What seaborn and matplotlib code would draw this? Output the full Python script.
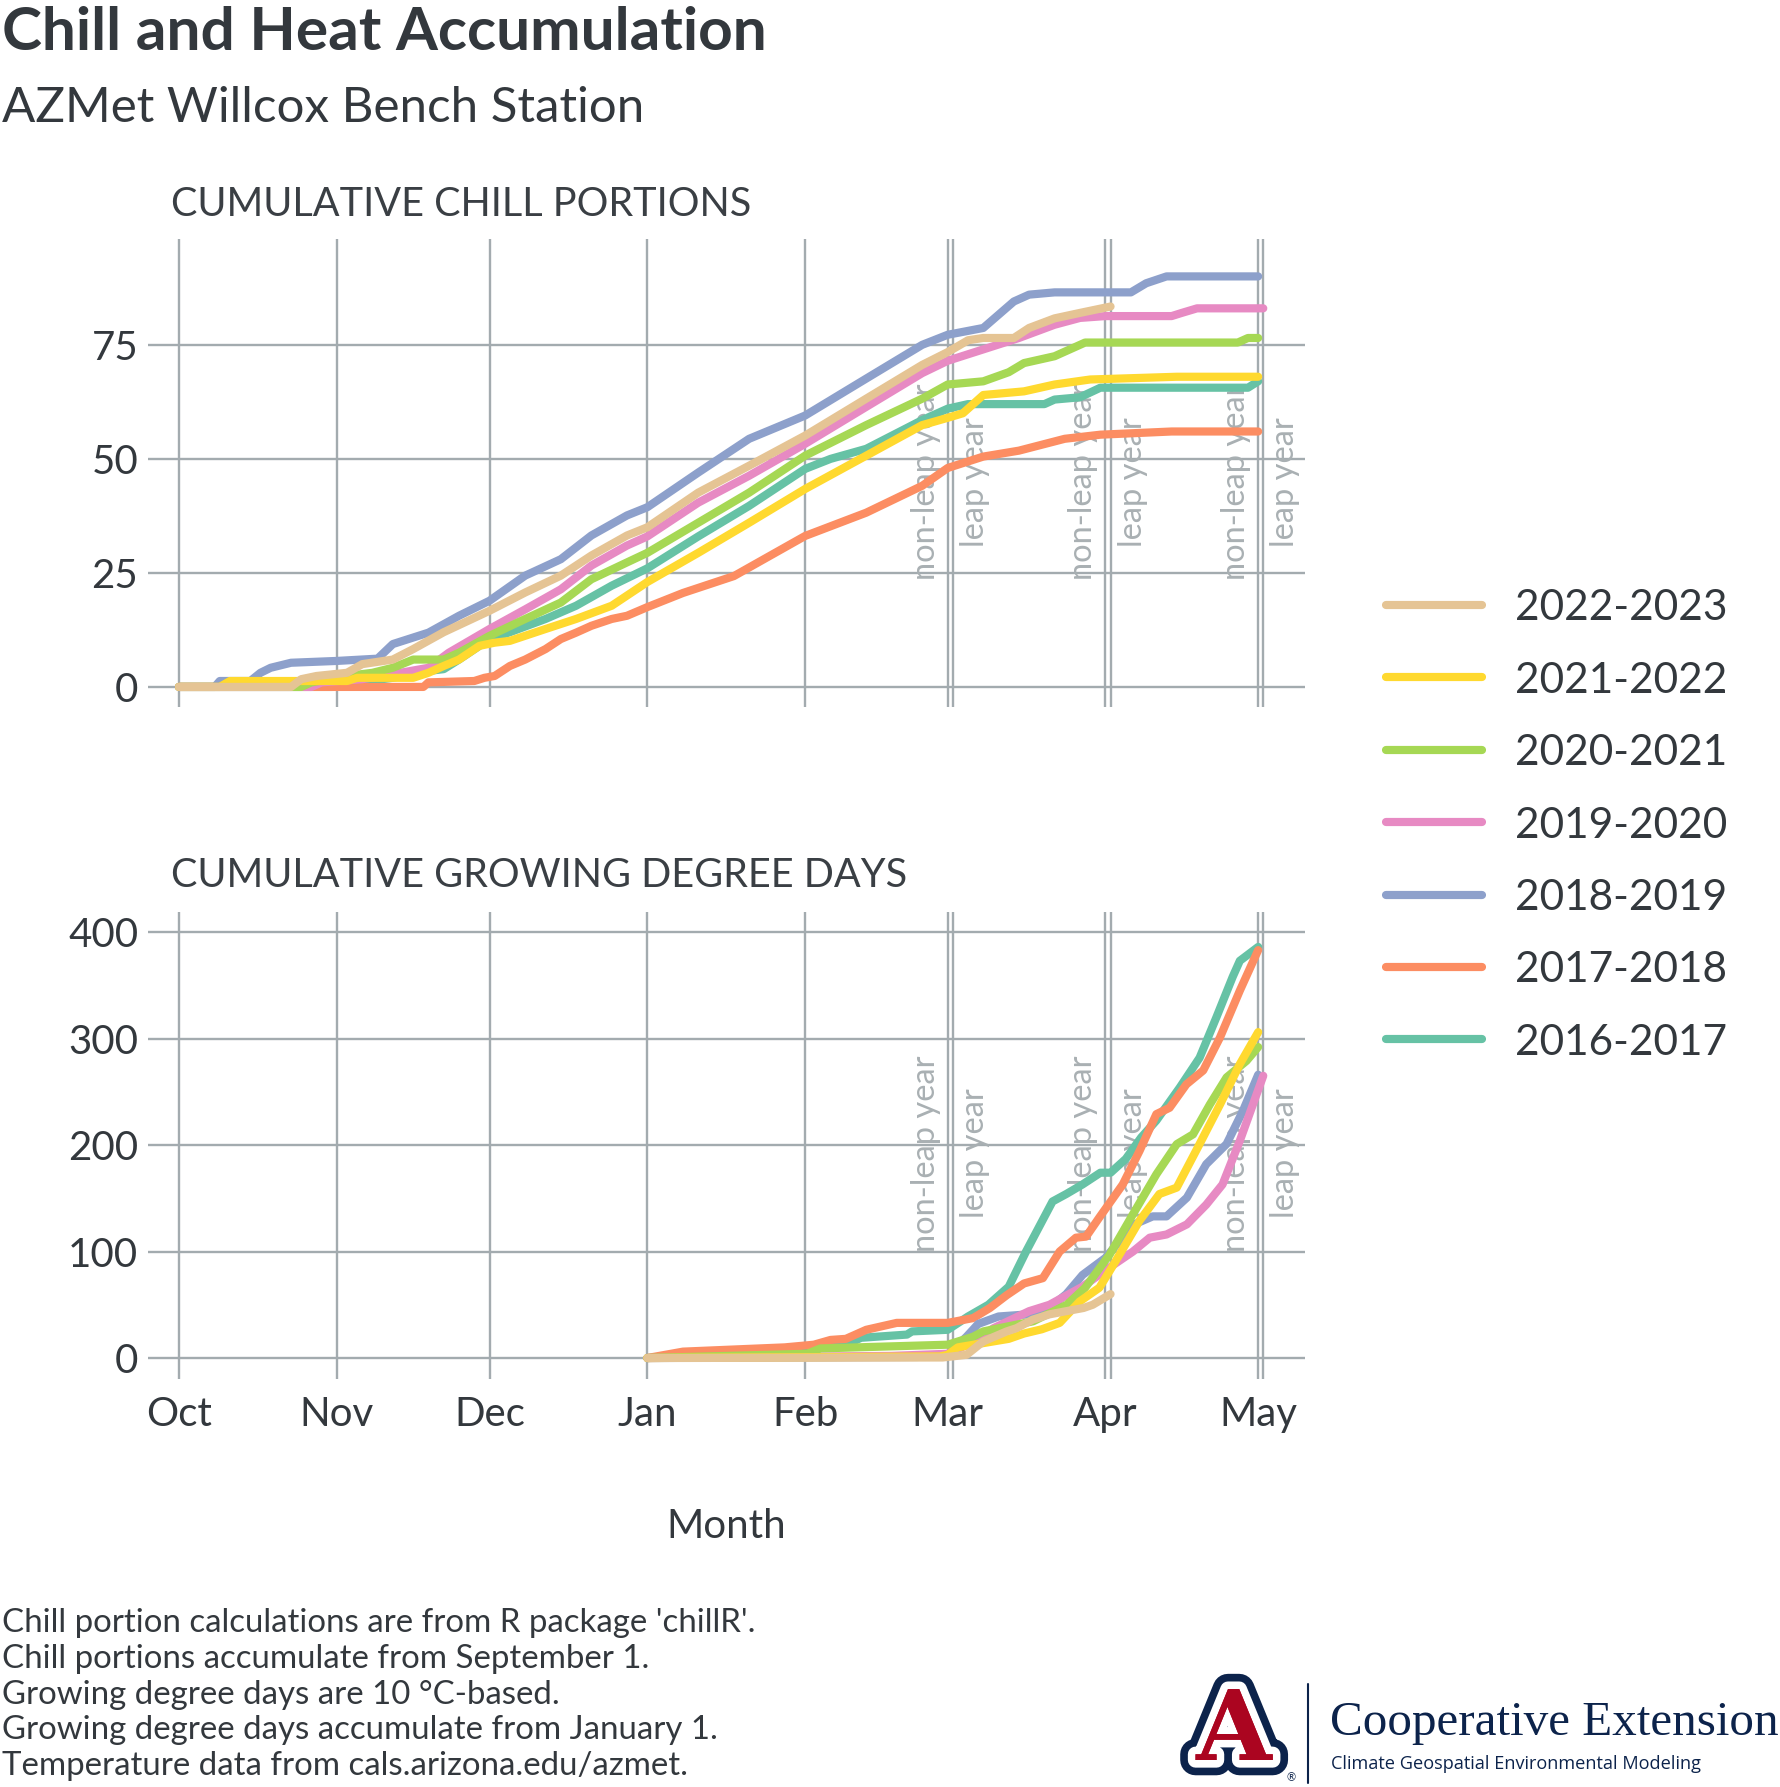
import numpy as np
import pandas as pd
import matplotlib
matplotlib.use("Agg")
import matplotlib.pyplot as plt
import seaborn as sns
from matplotlib.lines import Line2D
import matplotlib.patheffects as pe

# ---------------- data ----------------
seasons = ["2016-2017", "2017-2018", "2018-2019", "2019-2020",
           "2020-2021", "2021-2022", "2022-2023"]
season_colors = ["#66c2a5", "#fc8d62", "#8da0cb", "#e78ac3",
                 "#a6d854", "#ffd92f", "#e5c494"]

# x = days since October 1
month_labels = ["Oct", "Nov", "Dec", "Jan", "Feb", "Mar", "Apr", "May"]
month_starts = [0, 31, 61, 92, 123, 151, 182, 212]
leap_month_starts = [152, 183, 213]

# Cumulative chill portions
cp_day_1617 = [0, 30, 35, 42, 46, 52, 55, 61, 65, 72, 78, 85, 92, 102, 112, 123, 128, 135, 146, 151, 155, 170, 172, 177, 181, 183, 210, 212]
cp_val_1617 = [0, 0, 1, 2, 3.1, 3.9, 6, 10.5, 12, 14.9, 17.8, 22.2, 26, 33, 39.7, 47.8, 50, 52.2, 58.5, 61, 62, 62, 63, 63.5, 65.6, 65.6, 65.6, 67]
cp_day_1718 = [0, 48, 49, 58, 60, 62, 65, 68, 72, 75, 78, 81, 85, 88, 92, 99, 109, 123, 135, 146, 151, 158, 165, 174, 181, 195, 212]
cp_val_1718 = [0, 0, 1, 1.3, 2, 2.4, 4.6, 6, 8.3, 10.5, 11.9, 13.4, 14.9, 15.6, 17.5, 20.6, 24.3, 33.1, 38.2, 44.1, 48, 50.5, 51.8, 54.4, 55.3, 56, 56]
cp_day_1819 = [0, 7, 8, 14, 16, 18, 22, 31, 39, 42, 49, 55, 61, 68, 75, 81, 88, 92, 102, 112, 123, 135, 146, 151, 158, 164, 167, 172, 187, 190, 194, 212]
cp_val_1819 = [0, 0, 1.3, 1.3, 3.1, 4.2, 5.3, 5.7, 6.2, 9.4, 11.9, 15.6, 18.9, 24.4, 28, 33.2, 37.6, 39.4, 47, 54.4, 59.5, 67.6, 75, 77.2, 78.7, 84.5, 86, 86.5, 86.5, 88.5, 90, 90]
cp_day_1920 = [0, 26, 28, 36, 42, 49, 53, 61, 68, 75, 81, 88, 92, 102, 112, 123, 135, 146, 151, 158, 165, 172, 177, 182, 195, 197, 200, 213]
cp_val_1920 = [0, 0, 1, 1.7, 2.8, 4.2, 7.5, 12.7, 17, 21.4, 26.6, 31, 33, 40.4, 46.3, 53.3, 61.4, 68.8, 71.5, 74, 76.5, 79.4, 80.9, 81.3, 81.3, 82, 83, 83]
cp_day_2021 = [0, 24, 26, 33, 38, 42, 46, 52, 55, 61, 68, 75, 81, 88, 92, 102, 112, 123, 135, 146, 151, 158, 163, 166, 172, 178, 208, 210, 212]
cp_val_2021 = [0, 0, 1, 2.4, 3.1, 4.2, 6, 6, 7.5, 11.2, 14.9, 18.5, 23.6, 27.3, 29.4, 36, 42.6, 50.7, 57.4, 63.2, 66.3, 67, 69, 71, 72.5, 75.5, 75.5, 76.5, 76.5]
cp_day_2122 = [0, 8, 10, 33, 35, 46, 49, 52, 55, 59, 62, 65, 72, 78, 85, 92, 102, 112, 123, 135, 146, 151, 154, 158, 166, 172, 179, 196, 212]
cp_val_2122 = [0, 0, 1.3, 1.3, 2, 2, 3.1, 4.6, 6, 9, 9.7, 10.1, 12.7, 14.9, 17.8, 23, 29.4, 36, 43.4, 50.7, 57.4, 59, 60, 64, 64.8, 66.3, 67.4, 68, 68]
cp_day_2223 = [0, 22, 24, 27, 33, 36, 42, 46, 52, 61, 68, 75, 81, 88, 92, 102, 112, 123, 135, 146, 151, 155, 158, 164, 167, 172, 177, 183]
cp_val_2223 = [0, 0, 1.7, 2.4, 3.1, 5, 6, 8.3, 12, 16.7, 20.7, 24.4, 28.8, 33.2, 35, 42.6, 48.5, 55.1, 63.2, 70.6, 73.4, 76, 76.5, 76.5, 78.7, 80.8, 82, 83.4]

# Cumulative growing degree days
gdd_day_1617 = [92, 110, 123, 126, 131, 134, 143, 144, 151, 155, 159, 163, 166.4, 171.6, 174.3, 177.5, 181, 183, 186, 189, 192, 196.6, 200.5, 203.8, 207, 208.4, 212]
gdd_val_1617 = [0, 4, 5, 11, 12.5, 19, 22, 25, 26.5, 39, 50, 67, 100, 147, 154, 163, 174, 174, 187, 207, 223, 254, 282, 320, 358, 373, 386]
gdd_day_1718 = [92, 99, 119, 124.7, 128, 131, 135, 141, 151, 156, 159.3, 162.6, 166, 169.7, 173, 176.2, 178.2, 180.8, 185.4, 188.7, 192, 194.6, 197.9, 201.2, 204.5, 208.4, 212]
gdd_val_1718 = [0, 6, 10, 12.5, 17, 18, 26.5, 33, 33, 37.5, 47, 59, 70, 75, 100, 113, 114, 132, 163, 194.5, 229, 235, 257, 270, 301, 345, 383]
gdd_day_1819 = [92, 145, 151, 154.7, 157, 161, 169.7, 174.3, 177.5, 182, 187.4, 191.3, 194, 198, 201.8, 205.8, 209, 212]
gdd_val_1819 = [0, 1, 3, 20, 32, 39, 42, 60, 78, 94, 125, 133, 133, 150.6, 182, 201, 232, 266]
gdd_day_1920 = [92, 140, 151, 156, 160, 167, 171, 177.5, 182.8, 187.4, 190.7, 194, 198, 201.8, 205, 208.4, 213]
gdd_val_1920 = [0, 2, 4, 15, 28, 44, 50, 67, 85, 100, 113, 116, 125.5, 144, 163, 204, 265]
gdd_day_2021 = [92, 123.4, 126, 151, 156, 158, 167.8, 174.4, 178, 182.8, 187.4, 192, 196, 199.2, 202.5, 205.8, 209.7, 212]
gdd_val_2021 = [0, 4, 9, 12.5, 20, 25, 34.5, 50, 66, 97, 135, 172.5, 200.8, 210, 238, 263.5, 279, 292]
gdd_day_2122 = [92, 149.5, 151, 153, 158, 163, 166, 169.5, 173, 176.9, 180.8, 184, 188.7, 192.6, 196, 200.5, 204.5, 208.4, 212]
gdd_val_2122 = [0, 1.5, 3, 10, 14, 18, 23, 27, 33, 53, 66, 91, 129, 154, 160, 201, 238, 276, 306]
gdd_day_2223 = [92, 150, 154.7, 158, 162.6, 164.5, 167.7, 171, 174.3, 177.7, 179.5, 183]
gdd_val_2223 = [0, 0.5, 3, 15.6, 25, 28, 36, 41, 44, 47, 50, 60]

footer_lines = [
    "Chill portion calculations are from R package 'chillR'.",
    "Chill portions accumulate from September 1.",
    "Growing degree days are 10 \u00b0C-based.",
    "Growing degree days accumulate from January 1.",
    "Temperature data from cals.arizona.edu/azmet.",
]

cp_days = [cp_day_1617, cp_day_1718, cp_day_1819, cp_day_1920, cp_day_2021, cp_day_2122, cp_day_2223]
cp_vals = [cp_val_1617, cp_val_1718, cp_val_1819, cp_val_1920, cp_val_2021, cp_val_2122, cp_val_2223]
gdd_days = [gdd_day_1617, gdd_day_1718, gdd_day_1819, gdd_day_1920, gdd_day_2021, gdd_day_2122, gdd_day_2223]
gdd_vals = [gdd_val_1617, gdd_val_1718, gdd_val_1819, gdd_val_1920, gdd_val_2021, gdd_val_2122, gdd_val_2223]

def long_frame(days_list, vals_list):
    parts = []
    for s, d, v in zip(seasons, days_list, vals_list):
        parts.append(pd.DataFrame({"season": s, "day": d, "value": v}))
    return pd.concat(parts, ignore_index=True)

df_cp = long_frame(cp_days, cp_vals)
df_gdd = long_frame(gdd_days, gdd_vals)
palette = dict(zip(seasons, season_colors))

# ---------------- styling ----------------
sns.set_style("white")
plt.rcParams["font.family"] = ["Lato", "DejaVu Sans"]

W, H = 1780, 1787
fig = plt.figure(figsize=(W / 100, H / 100), dpi=100)
fig.patch.set_facecolor("white")

TXT = "#33383d"
GRID = "#a3abaf"
LBL = "#a9b0b3"

def fx(px):
    return px / W

def fy(py):
    return 1 - py / H

def make_axes(top, bottom):
    return fig.add_axes([fx(148), fy(bottom), fx(1305) - fx(148), fy(top) - fy(bottom)])

ax1 = make_axes(239, 707)
ax2 = make_axes(912, 1379)

def style(ax, yticks, ylim, show_x):
    ax.set_xlim(-6.1, 221.2)
    ax.set_ylim(*ylim)
    ax.set_xticks(month_starts)
    ax.set_xticklabels(month_labels)
    ax.set_yticks(yticks)
    ax.set_yticklabels([str(t) for t in yticks])
    ax.grid(True, color=GRID, linewidth=1.7)
    ax.set_axisbelow(True)
    for sp in ax.spines.values():
        sp.set_visible(False)
    ax.tick_params(axis="both", length=0, labelsize=29, labelcolor=TXT)
    ax.tick_params(axis="y", pad=7)
    ax.tick_params(axis="x", pad=12, labelbottom=show_x)
    for xl in leap_month_starts:
        ax.axvline(xl, color=GRID, linewidth=1.7, zorder=0.6)
    ax.set_xlabel("")
    ax.set_ylabel("")

def draw(ax, df):
    sns.lineplot(data=df, x="day", y="value", hue="season", hue_order=seasons,
                 palette=palette, linewidth=5.9, legend=False, ax=ax,
                 estimator=None, sort=False, solid_capstyle="round",
                 solid_joinstyle="round", zorder=3)

draw(ax1, df_cp)
draw(ax2, df_gdd)
style(ax1, [0, 25, 50, 75], (-4.4, 98.2), False)
style(ax2, [0, 100, 200, 300, 400], (-19.7, 418.8), True)

def leap_labels(ax, yc):
    for xn, xl in zip(month_starts[5:], leap_month_starts):
        ax.text(xn - 1.4, yc, "non-leap year", rotation=90, ha="right", va="center",
                fontsize=23.5, color=LBL, zorder=1)
        ax.text(xl + 1.4, yc, "leap year", rotation=90, ha="left", va="center",
                fontsize=23.5, color=LBL, zorder=1)

leap_labels(ax1, 45)
leap_labels(ax2, 192)

ax2.set_xlabel("Month", fontsize=29, color=TXT, labelpad=0)
ax2.xaxis.set_label_coords(0.5, -(1538 - 1379) / (1379 - 912), transform=ax2.transAxes)
ax2.xaxis.label.set_va("baseline")

# ---------------- titles ----------------
fig.text(fx(2), fy(50), "Chill and Heat Accumulation", fontsize=43.5, fontweight="bold",
         color=TXT, va="baseline", ha="left")
fig.text(fx(2), fy(122), "AZMet Willcox Bench Station", fontsize=35.5,
         color=TXT, va="baseline", ha="left")
fig.text(fx(171), fy(216), "CUMULATIVE CHILL PORTIONS", fontsize=28.5,
         color="#3a3f44", va="baseline", ha="left")
fig.text(fx(171), fy(887), "CUMULATIVE GROWING DEGREE DAYS", fontsize=28.5,
         color="#3a3f44", va="baseline", ha="left")

# ---------------- legend ----------------
for i, (s, c) in enumerate(zip(seasons[::-1], season_colors[::-1])):
    yy = fy(605 + i * 72.4)
    fig.add_artist(Line2D([fx(1386), fx(1482)], [yy, yy], color=c, linewidth=5.9,
                          solid_capstyle="round", transform=fig.transFigure))
    fig.text(fx(1515), yy, s, fontsize=30.5, color=TXT, va="center_baseline", ha="left")

# ---------------- footer ----------------
for i, line in enumerate(footer_lines):
    fig.text(fx(2), fy(1632 + i * 35.8), line, fontsize=23.8, color=TXT,
             va="baseline", ha="left")

# ---------------- logo ----------------
NAVY = "#0c234b"
RED = "#ab0520"
fig.text(fx(1234), fy(1733), "A", fontsize=70, fontweight="bold", family="DejaVu Serif",
         color=RED, ha="center", va="center",
         path_effects=[pe.withStroke(linewidth=22, foreground=NAVY),
                       pe.withStroke(linewidth=11, foreground="white"),
                       pe.Normal()])
fig.text(fx(1291), fy(1778), "\u00ae", fontsize=8, color=NAVY, ha="center", va="center")
fig.add_artist(Line2D([fx(1308), fx(1308)], [fy(1684), fy(1783)], color=NAVY,
                      linewidth=1.5, transform=fig.transFigure))
fig.text(fx(1330), fy(1735), "Cooperative Extension", fontsize=35.4,
         family="Liberation Serif", color=NAVY, ha="left", va="baseline")
fig.text(fx(1331), fy(1769), "Climate Geospatial Environmental Modeling", fontsize=13.1,
         family="Open Sans", color=NAVY, ha="left", va="baseline")

fig.savefig("out.png", dpi=100, facecolor="white")
